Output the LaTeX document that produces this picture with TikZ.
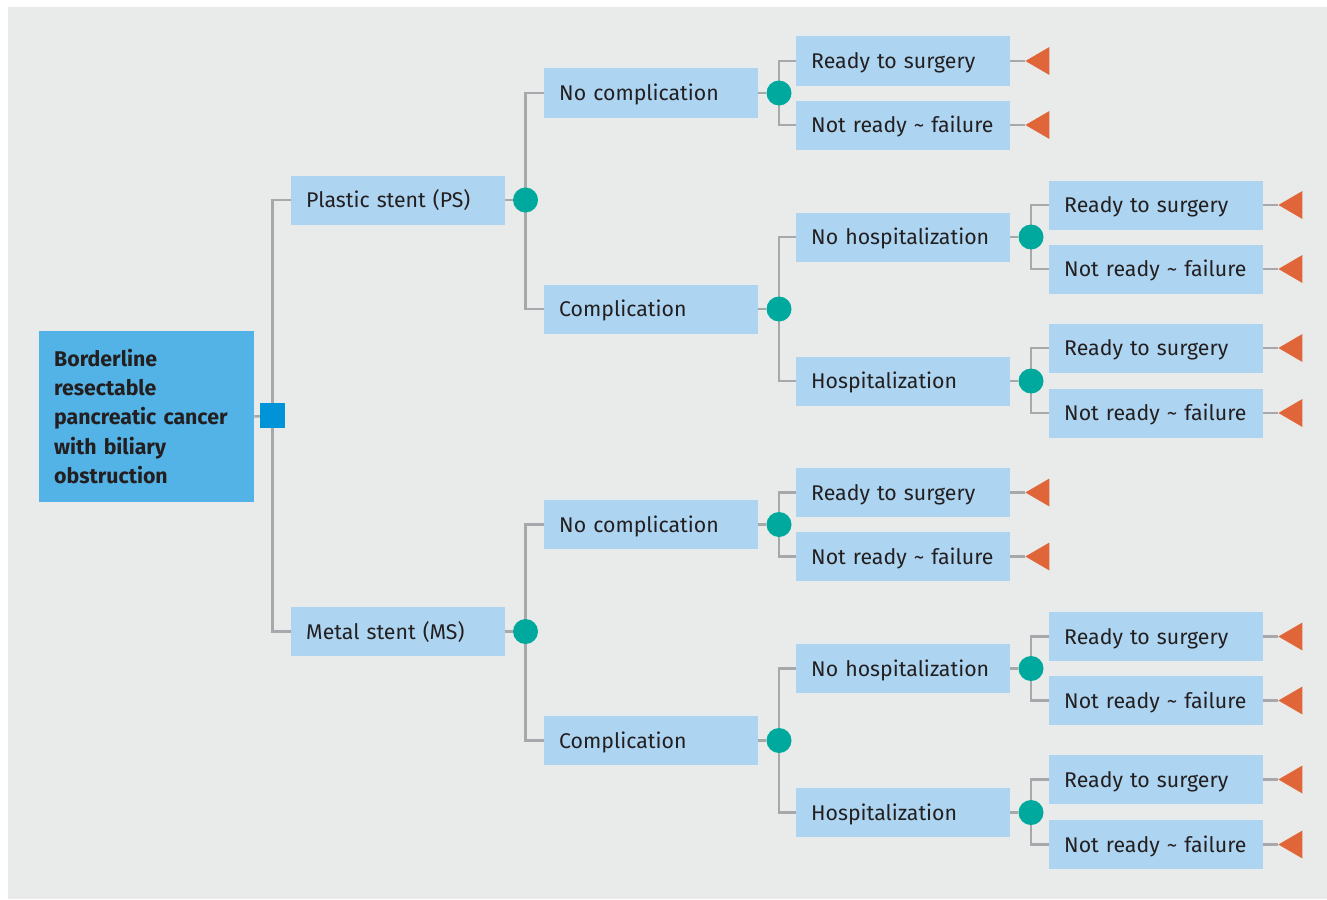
\documentclass[tikz,border=0pt]{standalone}
\usepackage{fontspec}
\setmainfont{Fira Sans}
\usetikzlibrary{calc}
\definecolor{bgc}{HTML}{E9EBEA}
\definecolor{boxc}{HTML}{ADD4F0}
\definecolor{rootc}{HTML}{53B3E6}
\definecolor{sqc}{HTML}{0093D8}
\definecolor{dotc}{HTML}{00A99D}
\definecolor{tric}{HTML}{E0663A}
\definecolor{linec}{HTML}{A6A8AB}
\definecolor{txtc}{HTML}{231F20}
\pgfdeclarelayer{back}
\pgfdeclarelayer{lines}
\pgfsetlayers{back,lines,main}
\newcommand{\leafbox}[4]{%
  \node[box] (#1) at (#2,#3) {#4};
  \coordinate (#1-tip) at ($(#1.east)+(15,0)$);
  \begin{pgfonlayer}{lines}\draw[conn] (#1.east) -- (#1-tip);\end{pgfonlayer}
  \fill[tric] (#1-tip) -- ++(24,-14) -- ++(0,28) -- cycle;
}
\begin{document}
\begin{tikzpicture}[x=1pt,y=-1pt,
  box/.style={fill=boxc, text=txtc, anchor=west, minimum height=49pt, text width=184pt, text height=17pt, text depth=2pt, inner xsep=15pt, inner ysep=0pt, align=left, font=\fontsize{21.3}{25}\selectfont},
  rootbox/.style={fill=rootc, text=txtc, anchor=west, minimum height=171pt, text width=185pt, inner xsep=15pt, inner ysep=0pt, align=left, font=\fontsize{21.3}{29.3}\selectfont\bfseries},
  dot/.style={circle, fill=dotc, minimum size=25pt, inner sep=0pt},
  sq/.style={rectangle, fill=sqc, minimum size=25pt, inner sep=0pt},
  conn/.style={draw=linec, line width=2.5pt}]
\begin{pgfonlayer}{back}
\fill[white] (0,0) rectangle (1327,899);
\fill[bgc] (8,7) rectangle (1327,899);
\end{pgfonlayer}
\node[rootbox, minimum height=171pt] (root) at (39,416.5) {\raisebox{5pt}{\parbox{185pt}{Borderline\\resectable\\pancreatic cancer\\with biliary\\obstruction}}};
\node[sq] (sq) at (272.5,415.5) {};
\begin{pgfonlayer}{lines}
\draw[conn] (root.east) -- (sq);
\end{pgfonlayer}
\foreach \b/\o/\lab in {p/0/Plastic stent (PS), m/431.5/Metal stent (MS)} {
  \node[box] (\b-l1) at (291,200+\o) {\lab};
  \node[dot] (\b-d1) at (525.5,200+\o) {};
  \node[box] (\b-nc) at (544,93+\o) {No complication};
  \node[box] (\b-c) at (544,309+\o) {Complication};
  \node[dot] (\b-d2) at (779,93+\o) {};
  \node[dot] (\b-d3) at (779,309+\o) {};
  \node[box] (\b-nh) at (796,237+\o) {No hospitalization};
  \node[box] (\b-h) at (796,381+\o) {Hospitalization};
  \node[dot] (\b-d4) at (1031,237+\o) {};
  \node[dot] (\b-d5) at (1031,381+\o) {};
  \leafbox{\b-r1}{796}{61+\o}{Ready to surgery}
  \leafbox{\b-n1}{796}{125+\o}{Not ready \textasciitilde{} failure}
  \leafbox{\b-r2}{1049}{205+\o}{Ready to surgery}
  \leafbox{\b-n2}{1049}{269+\o}{Not ready \textasciitilde{} failure}
  \leafbox{\b-r3}{1049}{348+\o}{Ready to surgery}
  \leafbox{\b-n3}{1049}{413+\o}{Not ready \textasciitilde{} failure}
  \begin{pgfonlayer}{lines}
  \draw[conn] (sq.center) |- (\b-l1.west);
  \draw[conn] (\b-l1.east) -- (\b-d1);
  \draw[conn] (\b-d1.center) |- (\b-nc.west);
  \draw[conn] (\b-d1.center) |- (\b-c.west);
  \draw[conn] (\b-nc.east) -- (\b-d2);
  \draw[conn] (\b-c.east) -- (\b-d3);
  \draw[conn] (\b-d2.center) |- (\b-r1.west);
  \draw[conn] (\b-d2.center) |- (\b-n1.west);
  \draw[conn] (\b-d3.center) |- (\b-nh.west);
  \draw[conn] (\b-d3.center) |- (\b-h.west);
  \draw[conn] (\b-nh.east) -- (\b-d4);
  \draw[conn] (\b-h.east) -- (\b-d5);
  \draw[conn] (\b-d4.center) |- (\b-r2.west);
  \draw[conn] (\b-d4.center) |- (\b-n2.west);
  \draw[conn] (\b-d5.center) |- (\b-r3.west);
  \draw[conn] (\b-d5.center) |- (\b-n3.west);
  \end{pgfonlayer}
}
\end{tikzpicture}
\end{document}
